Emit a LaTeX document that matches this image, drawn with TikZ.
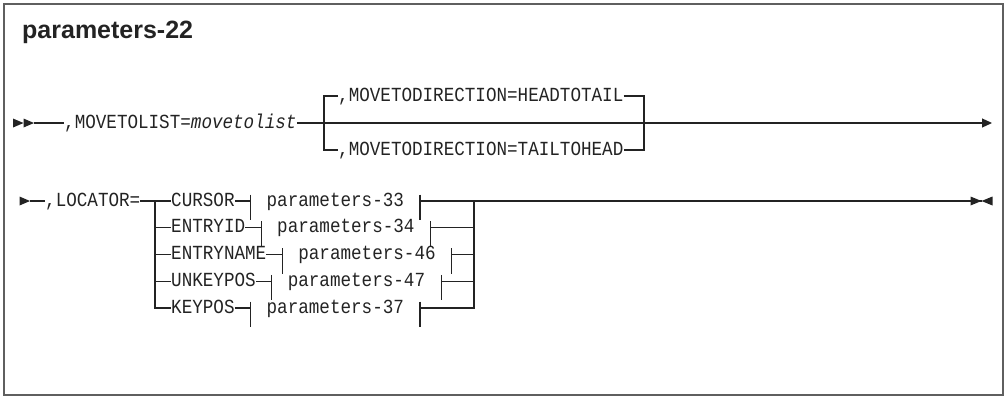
\documentclass[tikz,border=0pt]{standalone}
\usepackage{fontspec}
\setmainfont{Liberation Sans}
\newfontfamily\railfont[FakeStretch=0.88]{Liberation Mono}
\usepackage{tikz}
\usetikzlibrary{arrows.meta, positioning, calc}
\definecolor{railink}{RGB}{35, 35, 35}
\definecolor{framegray}{RGB}{95, 95, 95}

% filled start/stop marks: #1 tip, #2 base offset
\newcommand{\railtip}[2]{\fill[railink] (#1) -- ([shift={(#2,-4.5)}]#1) -- ([shift={(#2,4.5)}]#1) -- cycle;}
% fragment bar through a rail point
\newcommand{\fragbar}[1]{\draw[railline] ([yshift=6.5pt]#1) -- ([yshift=-19pt]#1);}

\begin{document}
\begin{tikzpicture}[
    x=1pt, y=-1pt,
    railline/.style={draw=railink, line width=1.1pt},
    railtext/.style={font=\railfont\fontsize{20}{22}\selectfont, text=railink, inner sep=0pt, anchor=west, text height=13.2pt, text depth=3.2pt},
    titletext/.style={font=\bfseries\fontsize{25}{30}\selectfont, text=railink, inner sep=0pt, anchor=base west}
]
    \useasboundingbox (0,0) rectangle (1008,399);
    \draw[framegray, line width=1.3pt] (4,4) rectangle (1003,395);

    % Title
    \node[titletext] (title) at (22,38) {parameters-22};

    % Row 1: MOVETOLIST
    \coordinate (r1tipa) at (23.5,123);
    \coordinate (r1tipb) at (34,123);
    \railtip{r1tipa}{-10.5}
    \railtip{r1tipb}{-10.5}
    \node[railtext] (movelist) at (64,123) {,MOVETOLIST=\textit{movetolist}};
    \draw[railline] (r1tipb) -- (movelist.west);

    % MOVETODIRECTION choice
    \coordinate (dirsplit) at (324,123);
    \coordinate (dirjoin) at (644,123);
    \node[railtext] (headtail) at (338,96) {,MOVETODIRECTION=HEADTOTAIL};
    \node[railtext] (tailhead) at (338,150) {,MOVETODIRECTION=TAILTOHEAD};
    \draw[railline] (movelist.east) -- (dirsplit) -- (dirjoin);
    \draw[railline] (headtail.west) -| (dirsplit) |- (tailhead.west);
    \draw[railline] (headtail.east) -| (dirjoin) |- (tailhead.east);
    \coordinate (r1end) at (992,123);
    \draw[railline, -{Triangle[length=10pt, width=9pt]}] (dirjoin) -- (r1end);

    % Row 2: LOCATOR
    \coordinate (r2tip) at (30,201);
    \railtip{r2tip}{-10.5}
    \node[railtext] (locator) at (45,201) {,LOCATOR=};
    \draw[railline] (r2tip) -- (locator.west);
    \coordinate (locsplit) at (155,201);
    \coordinate (locjoin) at (474,201);
    \draw[railline] (locator.east) -- (locsplit);

    % keywords
    \node[railtext] (cursor) at (171,201) {CURSOR};
    \node[railtext] (entryid) at (171,227.75) {ENTRYID};
    \node[railtext] (entryname) at (171,254.5) {ENTRYNAME};
    \node[railtext] (unkeypos) at (171,281.25) {UNKEYPOS};
    \node[railtext] (keypos) at (171,308) {KEYPOS};
    \draw[railline] (locsplit) |- (keypos.west);
    \draw[railline] (locsplit) -- (cursor.west);
    \draw[railline] (entryid.west -| locsplit) -- (entryid.west);
    \draw[railline] (entryname.west -| locsplit) -- (entryname.west);
    \draw[railline] (unkeypos.west -| locsplit) -- (unkeypos.west);

    % fragments
    \node[railtext, right=31.7pt of cursor] (frag33) {parameters-33};
    \node[railtext, right=31.7pt of entryid] (frag34) {parameters-34};
    \node[railtext, right=31.7pt of entryname] (frag46) {parameters-46};
    \node[railtext, right=31.7pt of unkeypos] (frag47) {parameters-47};
    \node[railtext, right=31.7pt of keypos] (frag37) {parameters-37};

    \coordinate[right=15.85pt of cursor] (c33l);
    \coordinate[right=15.85pt of frag33] (c33r);
    \coordinate[right=15.85pt of entryid] (c34l);
    \coordinate[right=15.85pt of frag34] (c34r);
    \coordinate[right=15.85pt of entryname] (c46l);
    \coordinate[right=15.85pt of frag46] (c46r);
    \coordinate[right=15.85pt of unkeypos] (c47l);
    \coordinate[right=15.85pt of frag47] (c47r);
    \coordinate[right=15.85pt of keypos] (c37l);
    \coordinate[right=15.85pt of frag37] (c37r);

    \draw[railline] (cursor.east) -- (c33l);
    \draw[railline] (entryid.east) -- (c34l);
    \draw[railline] (entryname.east) -- (c46l);
    \draw[railline] (unkeypos.east) -- (c47l);
    \draw[railline] (keypos.east) -- (c37l);
    \fragbar{c33l} \fragbar{c33r}
    \fragbar{c34l} \fragbar{c34r}
    \fragbar{c46l} \fragbar{c46r}
    \fragbar{c47l} \fragbar{c47r}
    \fragbar{c37l} \fragbar{c37r}

    % join and end marks
    \draw[railline] (c33r) -- (locjoin);
    \draw[railline] (c34r) -- (c34r -| locjoin);
    \draw[railline] (c46r) -- (c46r -| locjoin);
    \draw[railline] (c47r) -- (c47r -| locjoin);
    \draw[railline] (locjoin) |- (c37r);
    \coordinate (r2stop) at (981.5,201);
    \draw[railline] (locjoin) -- (r2stop);
    \railtip{r2stop}{-11}
    \railtip{r2stop}{11}
\end{tikzpicture}
\end{document}
